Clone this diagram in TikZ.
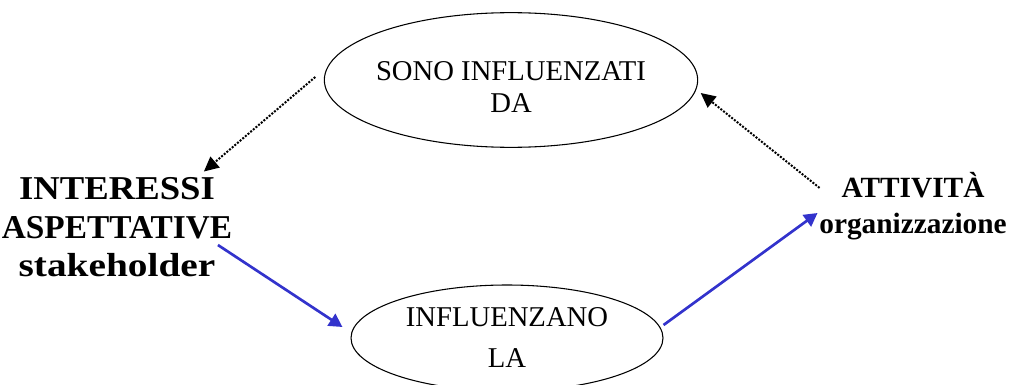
\documentclass[tikz,border=0pt]{standalone}
\usepackage{graphicx}
\usepackage{fontspec}
\setmainfont{Liberation Serif}
\usetikzlibrary{shapes.geometric, arrows.meta}
\definecolor{linkblue}{RGB}{51,51,204}

\begin{document}
\begin{tikzpicture}[x=0.75pt, y=-0.75pt,
  bubble/.style={ellipse, draw, line width=0.8pt, inner xsep=-10pt, inner ysep=0pt, align=center},
  side/.style={inner sep=0pt, align=center},
  dotarrow/.style={-{Triangle[length=11pt,width=10.5pt]}, line width=1.5pt, dash pattern=on 1.5pt off 1.1pt},
  bluearrow/.style={-{Triangle[length=10pt,width=10.5pt]}, line width=2pt, color=linkblue}]
  \useasboundingbox (0,0) rectangle (1013,385);

  \node[bubble, minimum width=280pt, minimum height=101pt, font=\fontsize{21.5}{24}\selectfont] (sono) at (511,80) {\rule{0pt}{25.5pt}SONO INFLUENZATI\\DA};
  \node[bubble, minimum width=234pt, minimum height=79.5pt, font=\fontsize{21.5}{30.75}\selectfont] (influenzano) at (507,338) {INFLUENZANO\\LA};
  \node[side, font=\bfseries\fontsize{25}{28.9}\selectfont] (interessi) at (117,227.5) {\scalebox{1.1}[1]{INTERESSI}\\ASPETTATIVE\\\scalebox{1.18}[1]{stakeholder}};
  \node[side, font=\bfseries\fontsize{22}{27}\selectfont] (attivita) at (913,206) {ATTIVITÀ\\organizzazione};

  \draw[dotarrow] ([shift={(-8.5,-3)}]sono.west) -- ([shift={(-28.5,-6)}]interessi.north east);
  \draw[dotarrow] ([shift={(0.5,16)}]attivita.north west) -- ([shift={(2.5,13)}]sono.east);
  \draw[bluearrow] ([shift={(-14.5,17.5)}]interessi.east) -- ([shift={(-8,-11)}]influenzano.west);
  \draw[bluearrow] ([shift={(0,-13)}]influenzano.east) -- ([shift={(-1.5,7)}]attivita.west);
\end{tikzpicture}
\end{document}
